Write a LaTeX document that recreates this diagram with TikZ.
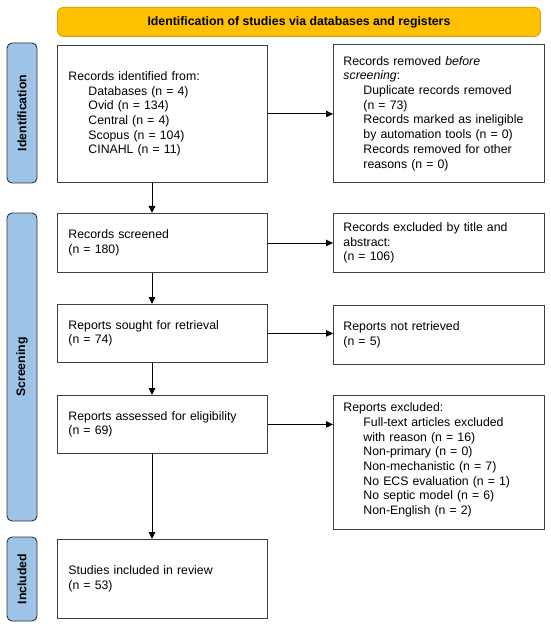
\documentclass[tikz,border=0pt]{standalone}
\usepackage{fontspec}
\setmainfont{Liberation Sans}
\usetikzlibrary{arrows.meta}
\definecolor{banfill}{HTML}{FFC000}
\definecolor{banline}{HTML}{D9A300}
\definecolor{sidefill}{HTML}{9DC3E6}
\definecolor{sideline}{HTML}{2E3440}
\definecolor{boxline}{HTML}{404040}
\begin{document}
\begin{tikzpicture}[x=1pt,y=-1pt,
  every node/.style={font=\fontsize{12.3}{14.7}\selectfont},
  box/.style={draw=boxline, line width=0.9pt, fill=white, align=left, inner ysep=0pt, anchor=north west},
  lbox/.style={box, minimum width=210pt, text width=188pt, inner xsep=11pt},
  rbox/.style={box, minimum width=211pt, text width=191pt, inner xsep=10pt},
  side/.style={draw=sideline, line width=0.9pt, fill=sidefill, rounded corners=5pt, rotate=90,
    minimum height=30pt, inner sep=0pt, font=\fontsize{12.3}{14.7}\selectfont\bfseries},
  banner/.style={draw=banline, line width=0.9pt, fill=banfill, rounded corners=6pt, anchor=north west,
    minimum width=483pt, minimum height=29pt, inner sep=0pt, font=\fontsize{12.3}{14.7}\selectfont\bfseries},
  arr/.style={draw=black, line width=0.9pt, -{Triangle[length=7pt,width=6.5pt]}}
]
\useasboundingbox (0,0) rectangle (550,628);

% banner
\node[banner] (ban) at (57,7) {Identification of studies via databases and registers};

% side labels
\node[side, minimum width=140pt] (sid) at (22,113) {Identification};
\node[side, minimum width=308pt] (sscr) at (22,367) {Screening};
\node[side, minimum width=84pt] (sinc) at (22,579) {Included};

% left column
\node[lbox, minimum height=137pt] (ident) at (57,45) {Records identified from:\\
\hspace*{20pt}Databases (n = 4)\\
\hspace*{20pt}Ovid (n = 134)\\
\hspace*{20pt}Central (n = 4)\\
\hspace*{20pt}Scopus (n = 104)\\
\hspace*{20pt}CINAHL (n = 11)};
\node[lbox, minimum height=59pt] (screened) at (57,213) {Records screened\\(n = 180)};
\node[lbox, minimum height=58pt] (sought) at (57,304) {Reports sought for retrieval\\(n = 74)};
\node[lbox, minimum height=58pt] (assessed) at (57,395) {Reports assessed for eligibility\\(n = 69)};
\node[lbox, minimum height=79pt] (included) at (57,539) {Studies included in review\\(n = 53)};

% right column
\node[rbox, minimum height=138pt] (removed) at (333,44) {Records removed \textit{before}\\
\textit{screening}:\\
\hspace*{20pt}Duplicate records removed\\
\hspace*{20pt}(n = 73)\\
\hspace*{20pt}Records marked as ineligible\\
\hspace*{20pt}by automation tools (n = 0)\\
\hspace*{20pt}Records removed for other\\
\hspace*{20pt}reasons (n = 0)};
\node[rbox, minimum height=59pt] (excl) at (333,213) {Records excluded by title and\\abstract:\\(n = 106)};
\node[rbox, minimum height=59pt] (notret) at (333,305) {Reports not retrieved\\(n = 5)};
\node[rbox, minimum height=134pt] (repexcl) at (333,395) {Reports excluded:\\
\hspace*{20pt}Full-text articles excluded\\
\hspace*{20pt}with reason (n = 16)\\
\hspace*{20pt}Non-primary (n = 0)\\
\hspace*{20pt}Non-mechanistic (n = 7)\\
\hspace*{20pt}No ECS evaluation (n = 1)\\
\hspace*{20pt}No septic model (n = 6)\\
\hspace*{20pt}Non-English (n = 2)\\[-7pt]\mbox{}};

% vertical arrows
\coordinate (ax) at (152,0);
\draw[arr] (ident.south -| ax) -- (screened.north -| ax);
\draw[arr] (screened.south -| ax) -- (sought.north -| ax);
\draw[arr] (sought.south -| ax) -- (assessed.north -| ax);
\draw[arr] (assessed.south -| ax) -- (included.north -| ax);

% horizontal arrows
\draw[arr] (ident.east) -- (ident.east -| removed.west);
\draw[arr] (screened.east) -- (screened.east -| excl.west);
\draw[arr] (sought.east) -- (sought.east -| notret.west);
\draw[arr] (assessed.east) -- (assessed.east -| repexcl.west);
\end{tikzpicture}
\end{document}
